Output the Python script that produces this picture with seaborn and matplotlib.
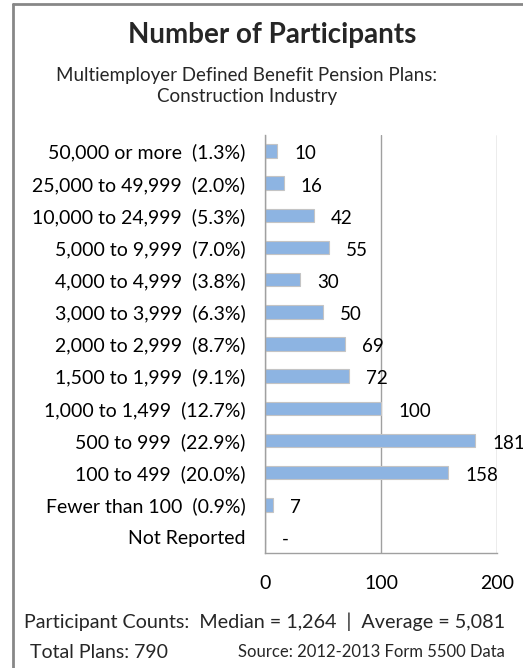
import matplotlib
matplotlib.use("Agg")
import matplotlib.pyplot as plt
import seaborn as sns
import pandas as pd
import numpy as np

categories = ["50,000 or more  (1.3%)", "25,000 to 49,999  (2.0%)", "10,000 to 24,999  (5.3%)",
              "5,000 to 9,999  (7.0%)", "4,000 to 4,999  (3.8%)", "3,000 to 3,999  (6.3%)",
              "2,000 to 2,999  (8.7%)", "1,500 to 1,999  (9.1%)", "1,000 to 1,499  (12.7%)",
              "500 to 999  (22.9%)", "100 to 499  (20.0%)", "Fewer than 100  (0.9%)", "Not Reported"]
plans = [10, 16, 42, 55, 30, 50, 69, 72, 100, 181, 158, 7, 0]
value_labels = ["10", "16", "42", "55", "30", "50", "69", "72", "100", "181", "158", "7", "-"]
x_ticks = [0, 100, 200]

title = "Number of Participants"
subtitle = "Multiemployer Defined Benefit Pension Plans:\nConstruction Industry"
stats_text = "Participant Counts:  Median = 1,264  |  Average = 5,081"
total_text = "Total Plans: 790"
source_text = "Source: 2012-2013 Form 5500 Data"

sns.set_theme(style="white")
plt.rcParams['font.family'] = ['Lato', 'DejaVu Sans']

df = pd.DataFrame({"category": categories, "plans": plans})

W, H = 523, 668
fig = plt.figure(figsize=(W / 100, H / 100), dpi=100)
ax = fig.add_axes([265 / W, 1 - 553 / H, (497 - 265) / W, (553 - 135) / H])

sns.barplot(data=df, y="category", x="plans", orient="h", color="#8DB4E2",
            edgecolor="#C4C4C4", linewidth=0.8, width=0.42, saturation=1, ax=ax)

grey = "#A0A0A0"
ax.set_xlim(0, 200)
ax.set_ylim(len(categories) - 0.5, -0.5)
ax.set_xticks(x_ticks)
ax.set_xticklabels([str(t) for t in x_ticks], fontsize=14, color="#000000")
ax.xaxis.grid(True, color=grey, linewidth=1.0)
ax.yaxis.grid(False)
ax.set_axisbelow(True)
ax.set_xlabel("")
ax.set_ylabel("")
for s in ["top", "right"]:
    ax.spines[s].set_visible(False)
for s in ["left", "bottom"]:
    ax.spines[s].set_color(grey)
    ax.spines[s].set_linewidth(1.0)

ax.tick_params(axis="y", which="major", length=0, pad=14, labelsize=14, labelcolor="#000000")
ax.set_yticks(np.arange(-0.5, len(categories), 1.0), minor=True)
ax.tick_params(axis="y", which="minor", length=6, width=1, color=grey, direction="out")
ax.tick_params(axis="x", which="major", length=6, width=1, color=grey, direction="out", pad=10)

for i, (v, lab) in enumerate(zip(plans, value_labels)):
    ax.annotate(lab, xy=(v, i), xytext=(12.5, -2), textcoords="offset points",
                ha="left", va="center", fontsize=13.5, color="#000000")

fig.text(272 / W, 1 - 35 / H, title, ha="center", va="center", fontsize=20, fontweight="bold")
fig.text(247 / W, 1 - 86 / H, subtitle, ha="center", va="center", fontsize=13.5, linespacing=1.25)
fig.text(265 / W, 1 - 622 / H, stats_text, ha="center", va="center", fontsize=14.2)
fig.text(30 / W, 1 - 652 / H, total_text, ha="left", va="center", fontsize=14)
fig.text(505 / W, 1 - 652 / H, source_text, ha="right", va="center", fontsize=12)

# frame around the chart (left and top edges visible)
fig.add_artist(plt.Line2D([13 / W, 13 / W], [0, 1 - 4 / H], color="#878787", linewidth=2, transform=fig.transFigure))
fig.add_artist(plt.Line2D([13 / W, 1], [1 - 4 / H, 1 - 4 / H], color="#878787", linewidth=2, transform=fig.transFigure))

fig.savefig("out.png", dpi=100, facecolor="white")
